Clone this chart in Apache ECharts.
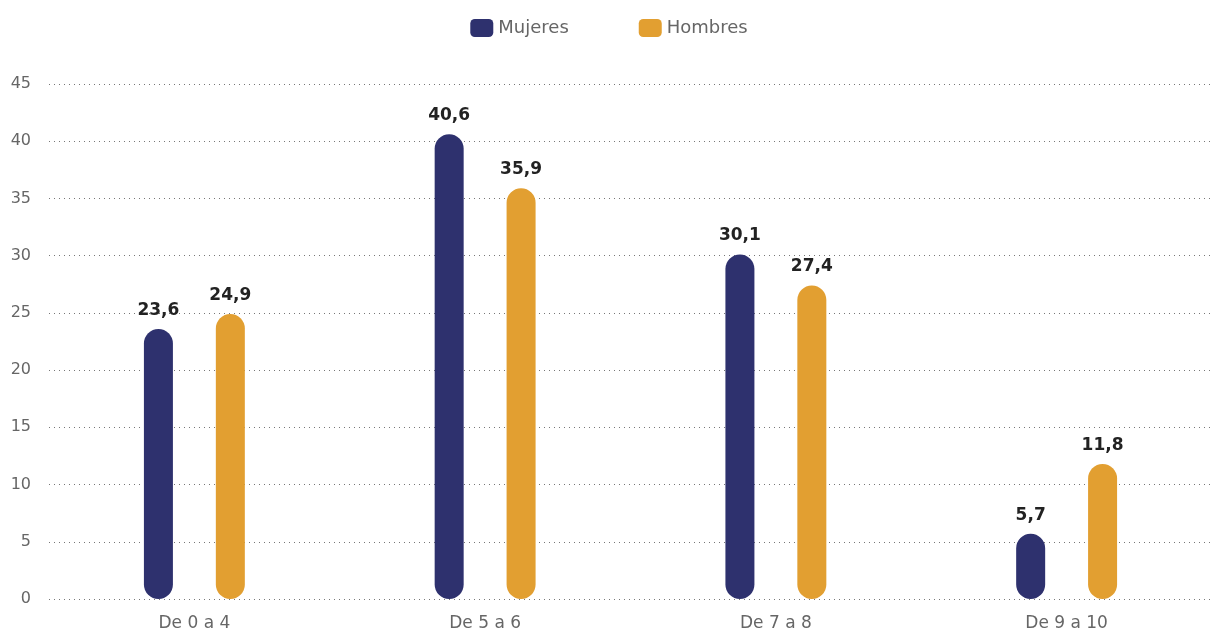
<!DOCTYPE html>
<html>
<head>
<meta charset="utf-8">
<style>
  html, body { margin: 0; padding: 0; background: #ffffff; }
  #chart { width: 1218px; height: 635px; }
</style>
<script src="https://cdn.jsdelivr.net/npm/echarts@6/dist/echarts.min.js"></script>
</head>
<body>
<div id="chart"></div>
<script>
// Age groups and percentages by sex
const categories = ['De 0 a 4', 'De 5 a 6', 'De 7 a 8', 'De 9 a 10'];
const mujeres = [23.6, 40.6, 30.1, 5.7];
const hombres = [24.9, 35.9, 27.4, 11.8];

const fontFamily = '"DejaVu Sans", "Noto Sans", sans-serif';
const fmt = p => String(p.value).replace('.', ',');

const chart = echarts.init(document.getElementById('chart'), null, { renderer: 'canvas' });

function barSeries(name, data, color) {
  return {
    name: name,
    type: 'bar',
    data: data,
    barWidth: 29,
    barGap: '148%',
    itemStyle: { color: color, borderRadius: 14.5 },
    label: {
      show: true,
      position: 'top',
      distance: 10,
      formatter: fmt,
      color: '#222222',
      fontSize: 17,
      fontWeight: 'bold',
      fontFamily: fontFamily
    }
  };
}

chart.setOption({
  animation: false,
  color: ['#2e316e', '#e29f31'],
  legend: {
    top: 14,
    left: 'center',
    itemWidth: 23,
    itemHeight: 18,
    itemGap: 70,
    icon: 'roundRect',
    textStyle: { color: '#666666', fontSize: 18, fontFamily: fontFamily },
    data: ['Mujeres', 'Hombres']
  },
  grid: { left: 49, right: 6, top: 84, bottom: 36 },
  xAxis: {
    type: 'category',
    data: categories,
    axisLine: { show: false },
    axisTick: { show: false },
    axisLabel: { color: '#666666', fontSize: 17, fontFamily: fontFamily, margin: 16 }
  },
  yAxis: {
    type: 'value',
    min: 0,
    max: 45,
    interval: 5,
    axisLine: { show: false },
    axisTick: { show: false },
    axisLabel: { color: '#666666', fontSize: 16, fontFamily: fontFamily, margin: 18 },
    splitLine: { lineStyle: { color: '#777777', type: [1, 4], width: 1 } }
  },
  series: [
    barSeries('Mujeres', mujeres, '#2e316e'),
    barSeries('Hombres', hombres, '#e29f31')
  ]
});
</script>
</body>
</html>
